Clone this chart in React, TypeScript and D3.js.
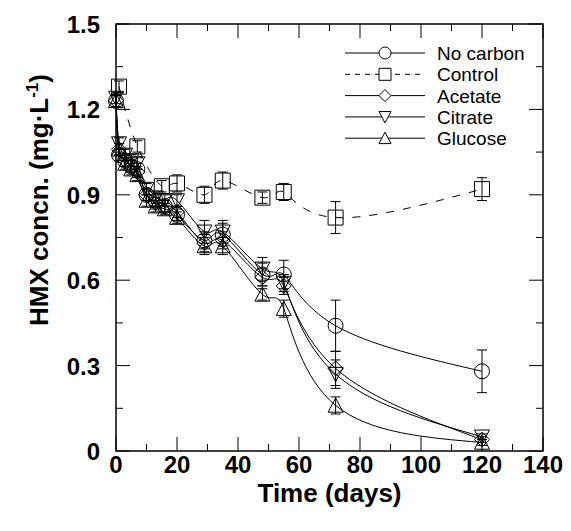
import React from 'react';
import * as d3 from 'd3';

// days sampled for the four treatments
const days = [0, 1, 3, 5, 7, 10, 13, 16, 20, 29, 35, 48, 55, 72, 120];
const noCarbon = [1.23, 1.04, 1.02, 1.0, 0.99, 0.9, 0.88, 0.86, 0.83, 0.74, 0.76, 0.62, 0.62, 0.44, 0.28];
const noCarbonErr = [0.02, 0.02, 0.02, 0.02, 0.02, 0.02, 0.02, 0.02, 0.02, 0.03, 0.04, 0.04, 0.05, 0.09, 0.075];
const acetate = [1.23, 1.06, 1.02, 1.0, 0.98, 0.9, 0.87, 0.86, 0.84, 0.73, 0.74, 0.61, 0.58, 0.29, 0.04];
const acetateErr = [0.02, 0.02, 0.02, 0.02, 0.02, 0.02, 0.02, 0.02, 0.02, 0.03, 0.03, 0.03, 0.03, 0.06, 0.01];
const citrate = [1.24, 1.08, 1.04, 1.02, 1.01, 0.92, 0.89, 0.88, 0.88, 0.77, 0.77, 0.64, 0.59, 0.27, 0.05];
const citrateErr = [0.02, 0.02, 0.02, 0.02, 0.02, 0.02, 0.02, 0.02, 0.02, 0.04, 0.04, 0.04, 0.03, 0.05, 0.01];
const glucose = [1.23, 1.06, 1.01, 0.99, 0.97, 0.88, 0.86, 0.85, 0.82, 0.72, 0.72, 0.55, 0.5, 0.16, 0.03];
const glucoseErr = [0.02, 0.02, 0.02, 0.02, 0.02, 0.02, 0.02, 0.02, 0.02, 0.03, 0.03, 0.02, 0.03, 0.03, 0.01];

const controlDays = [1, 7, 15, 20, 29, 35, 48, 55, 72, 120];
const control = [1.28, 1.07, 0.93, 0.94, 0.9, 0.95, 0.89, 0.91, 0.82, 0.92];
const controlErr = [0.02, 0.02, 0.02, 0.03, 0.03, 0.03, 0.02, 0.03, 0.056, 0.04];

const xTicks = [0, 20, 40, 60, 80, 100, 120, 140];
const yTicks = [0, 0.3, 0.6, 0.9, 1.2, 1.5];
const yTickLabels = ['0', '0.3', '0.6', '0.9', '1.2', '1.5'];

const series = [
  { name: 'No carbon', shape: 'circle', dashed: false, x: days, y: noCarbon, err: noCarbonErr },
  { name: 'Control', shape: 'square', dashed: true, x: controlDays, y: control, err: controlErr },
  { name: 'Acetate', shape: 'diamond', dashed: false, x: days, y: acetate, err: acetateErr },
  { name: 'Citrate', shape: 'down', dashed: false, x: days, y: citrate, err: citrateErr },
  { name: 'Glucose', shape: 'up', dashed: false, x: days, y: glucose, err: glucoseErr },
];

const W = 571, H = 531;
const margin = { top: 24, right: 28, bottom: 80, left: 116 };
const font = '"Liberation Sans", Arial, sans-serif';

const markerPath = (shape: string, cx: number, cy: number, s: number) => {
  const h = s / 2;
  if (shape === 'circle') {
    return `M${cx - h},${cy}a${h},${h} 0 1,0 ${s},0a${h},${h} 0 1,0 ${-s},0Z`;
  }
  if (shape === 'square') {
    return `M${cx - h},${cy - h}h${s}v${s}h${-s}Z`;
  }
  if (shape === 'diamond') {
    return `M${cx},${cy - h}L${cx + h},${cy}L${cx},${cy + h}L${cx - h},${cy}Z`;
  }
  if (shape === 'down') {
    return `M${cx - h},${cy - h * 0.9}L${cx + h},${cy - h * 0.9}L${cx},${cy + h * 1.0}Z`;
  }
  return `M${cx - h},${cy + h * 0.9}L${cx + h},${cy + h * 0.9}L${cx},${cy - h * 1.0}Z`;
};

const App = () => {
  const x = d3.scaleLinear().domain([0, 140]).range([margin.left, W - margin.right]);
  const y = d3.scaleLinear().domain([0, 1.5]).range([H - margin.bottom, margin.top]);
  const x0 = x(0), x1 = x(140), y0 = y(0), y1 = y(1.5);

  const line = d3.line<[number, number]>()
    .x((d) => x(d[0]))
    .y((d) => y(d[1]))
    .curve(d3.curveNatural);

  const xMinor = d3.range(10, 140, 20);
  const yMinor = d3.range(0.15, 1.5, 0.3);
  const major = 14, minor = 7;

  return (
    <svg width={W} height={H} style={{ position: 'absolute', left: 0, top: 0, background: '#fff' }}
         fontFamily={font}>
      {/* frame */}
      <rect x={x0} y={y1} width={x1 - x0} height={y0 - y1} fill="none" stroke="#000" strokeWidth={1.5} />
      {/* ticks inward on all sides */}
      {xTicks.map((t) => (
        <g key={'xt' + t} stroke="#000" strokeWidth={1}>
          <line x1={x(t)} x2={x(t)} y1={y0} y2={y0 - major} />
          <line x1={x(t)} x2={x(t)} y1={y1} y2={y1 + major} />
        </g>
      ))}
      {xMinor.map((t) => (
        <g key={'xm' + t} stroke="#000" strokeWidth={1}>
          <line x1={x(t)} x2={x(t)} y1={y0} y2={y0 - minor} />
          <line x1={x(t)} x2={x(t)} y1={y1} y2={y1 + minor} />
        </g>
      ))}
      {yTicks.map((t) => (
        <g key={'yt' + t} stroke="#000" strokeWidth={1}>
          <line x1={x0} x2={x0 + major} y1={y(t)} y2={y(t)} />
          <line x1={x1} x2={x1 - major} y1={y(t)} y2={y(t)} />
        </g>
      ))}
      {yMinor.map((t) => (
        <g key={'ym' + t} stroke="#000" strokeWidth={1}>
          <line x1={x0} x2={x0 + minor} y1={y(t)} y2={y(t)} />
          <line x1={x1} x2={x1 - minor} y1={y(t)} y2={y(t)} />
        </g>
      ))}
      {/* tick labels */}
      {xTicks.map((t) => (
        <text key={'xl' + t} x={x(t)} y={y0 + 22} textAnchor="middle" fontSize={24} fontWeight="bold">
          {t}
        </text>
      ))}
      {yTicks.map((t, i) => (
        <text key={'yl' + t} x={x0 - 16} y={y(t) + 9} textAnchor="end" fontSize={24} fontWeight="bold">
          {yTickLabels[i]}
        </text>
      ))}
      {/* axis titles */}
      <text x={(x0 + x1) / 2} y={502} textAnchor="middle" fontSize={26} fontWeight="bold">Time (days)</text>
      <text transform="translate(48,200) rotate(-90)" textAnchor="middle" fontSize={26} fontWeight="bold">
        HMX concn. (mg·L<tspan fontSize={17} dy={-10}>-1</tspan><tspan dy={10}>)</tspan>
      </text>

      {/* curves */}
      {series.map((s) => (
        <path key={'c' + s.name}
              d={line(s.x.map((d, i) => [d, s.y[i]] as [number, number])) || ''}
              fill="none" stroke="#000" strokeWidth={1}
              strokeDasharray={s.dashed ? '8,9' : undefined} />
      ))}
      {/* error bars */}
      {series.map((s) => (
        <g key={'e' + s.name} stroke="#000" strokeWidth={1}>
          {s.x.map((d, i) => (
            <g key={i}>
              <line x1={x(d)} x2={x(d)} y1={y(s.y[i] - s.err[i])} y2={y(s.y[i] + s.err[i])} />
              <line x1={x(d) - 5} x2={x(d) + 5} y1={y(s.y[i] - s.err[i])} y2={y(s.y[i] - s.err[i])} />
              <line x1={x(d) - 5} x2={x(d) + 5} y1={y(s.y[i] + s.err[i])} y2={y(s.y[i] + s.err[i])} />
            </g>
          ))}
        </g>
      ))}
      {/* markers */}
      {series.map((s) => (
        <g key={'m' + s.name} fill="none" stroke="#000" strokeWidth={1}>
          {s.x.map((d, i) => (
            <path key={i} d={markerPath(s.shape, x(d), y(s.y[i]), 15)} />
          ))}
        </g>
      ))}

      {/* legend */}
      {series.map((s, i) => {
        const ly = 53 + i * 21.3;
        return (
          <g key={'l' + s.name}>
            <line x1={345} x2={425} y1={ly} y2={ly} stroke="#000" strokeWidth={1}
                  strokeDasharray={s.dashed ? '5,5' : undefined} />
            <path d={markerPath(s.shape, 385, ly, 12)} fill="#fff" stroke="#000" strokeWidth={1} />
            <text x={437} y={ly + 7} fontSize={19}>{s.name}</text>
          </g>
        );
      })}
    </svg>
  );
};

export default App;
